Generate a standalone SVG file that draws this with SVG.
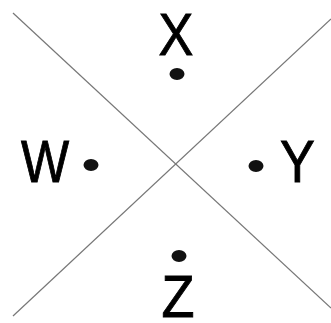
<svg xmlns="http://www.w3.org/2000/svg" width="331" height="323" viewBox="0 0 331 323">
<style>
.lbl{font-family:"Liberation Sans",Arial,sans-serif;font-size:60px;fill:#000;stroke:#000;stroke-width:0.9;text-anchor:middle}
.ln{stroke:#777;stroke-width:1.2;fill:none}
.dot{fill:#111}
</style>
<rect width="331" height="323" fill="#fff"/>
<g id="connectors">
<line class="ln" x1="13" y1="13" x2="331" y2="308"/>
<line class="ln" x1="13" y1="316" x2="331" y2="19"/>
</g>
<g id="X"><text class="lbl" transform="translate(176,55) scale(0.87,1)">X</text><ellipse class="dot" cx="177" cy="74" rx="7.5" ry="6"/></g>
<g id="W"><text class="lbl" transform="translate(45,182) scale(0.85,1)">W</text><ellipse class="dot" cx="91" cy="165" rx="7.5" ry="6"/></g>
<g id="Y"><text class="lbl" transform="translate(297.5,182) scale(0.87,1)">Y</text><ellipse class="dot" cx="256" cy="166" rx="7.5" ry="6"/></g>
<g id="Z"><text class="lbl" transform="translate(178,317) scale(0.9,1)">Z</text><ellipse class="dot" cx="179" cy="256" rx="7.5" ry="6"/></g>
</svg>
